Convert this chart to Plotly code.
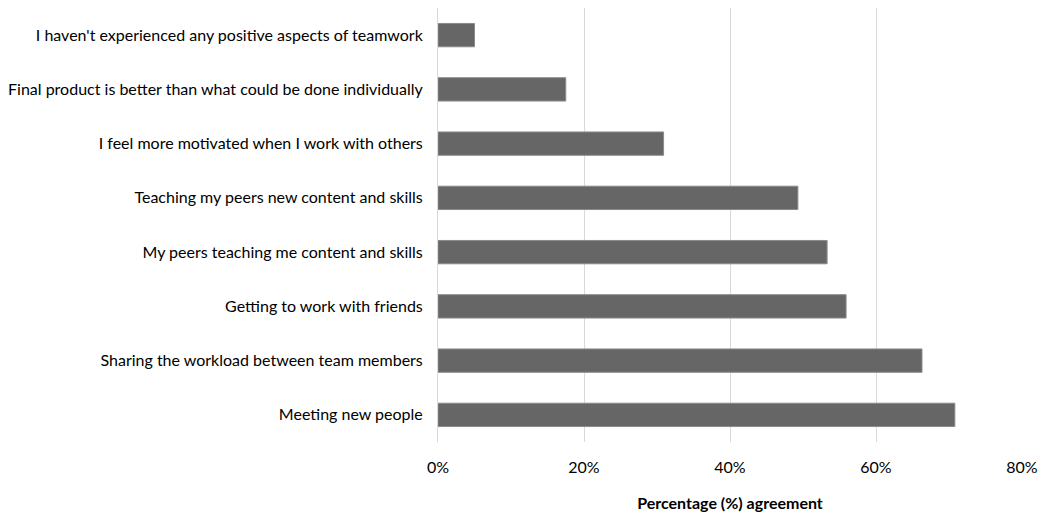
import plotly.graph_objects as go

categories = [
    "I haven't experienced any positive aspects of teamwork",
    "Final product is better than what could be done individually",
    "I feel more motivated when I work with others",
    "Teaching my peers new content and skills",
    "My peers teaching me content and skills",
    "Getting to work with friends",
    "Sharing the workload between team members",
    "Meeting new people",
]
values = [0.05, 0.175, 0.309, 0.493, 0.533, 0.559, 0.663, 0.708]
tick_vals = [0, 0.2, 0.4, 0.6, 0.8]
tick_text = ["0%", "20%", "40%", "60%", "80%"]

fig = go.Figure(go.Bar(
    y=categories, x=values, orientation="h",
    marker=dict(color="#666666", line=dict(color="#8a8a8a", width=1)),
))
font = "Lato, 'Open Sans', sans-serif"
fig.update_layout(
    width=1044, height=517,
    margin=dict(l=438, r=22, t=8, b=75),
    paper_bgcolor="white", plot_bgcolor="white",
    bargap=0.57,
    showlegend=False,
    font=dict(family=font, size=16, color="#000000"),
)
fig.update_xaxes(
    range=[0, 0.8], tickvals=tick_vals, ticktext=tick_text,
    showgrid=True, gridcolor="#d9d9d9", gridwidth=1,
    zeroline=False, showline=False, ticks="",
    ticklabelstandoff=14, automargin=False,
    title=dict(text="<b>Percentage (%) agreement</b>", standoff=22,
               font=dict(size=16)),
)
fig.update_yaxes(
    autorange="reversed", showgrid=False, zeroline=False,
    showline=True, linecolor="#d9d9d9", linewidth=1,
    ticks="", ticklabelstandoff=11, automargin=False,
)
fig.write_html("out.html")
